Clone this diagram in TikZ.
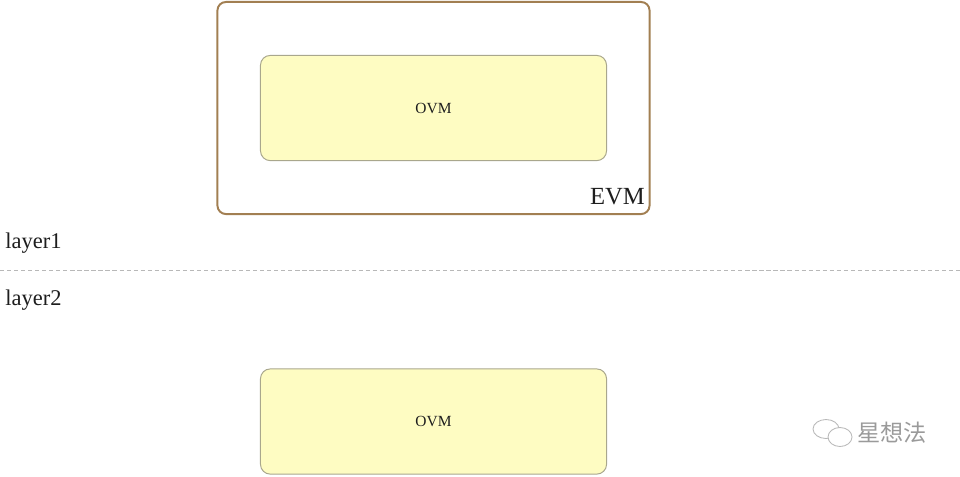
\documentclass[tikz,border=0pt]{standalone}
\usepackage{fontspec}
\setmainfont{Liberation Serif}
\newfontfamily\cjk{Noto Sans CJK SC}
\usetikzlibrary{positioning}

\definecolor{evmline}{HTML}{A27F52}
\definecolor{ovmfill}{HTML}{FEFCC2}
\definecolor{ovmline}{HTML}{A9A78D}
\definecolor{txt}{HTML}{1E1E1E}
\definecolor{mark}{HTML}{9A9A9A}

\tikzset{
  evmbox/.style={draw=evmline, line width=1.4pt, rounded corners=6pt,
    minimum width=10.8cm, minimum height=5.3cm, inner sep=0pt},
  ovmbox/.style={draw=ovmline, fill=ovmfill, line width=0.7pt, rounded corners=7pt,
    minimum width=8.65cm, minimum height=2.63cm, text=txt,
    font=\fontsize{11}{13}\selectfont},
  layerlabel/.style={anchor=west, inner sep=0pt, text=txt,
    font=\fontsize{16}{19}\selectfont},
}

\begin{document}
\begin{tikzpicture}[x=0.025cm, y=-0.025cm]
  \useasboundingbox (0,0) rectangle (960,476);

  % layer 1
  \node [evmbox] (evm) at (433.5,108) {};
  \node [anchor=south east, inner sep=0pt, text=txt,
    font=\fontsize{17.5}{20}\selectfont] (evmlabel) at (645,205) { EVM };
  \node [ovmbox] (ovm1) at (433.5,108) { OVM };
  \node [layerlabel] (layer1) at (5,243) { layer1 };

  % separator
  \coordinate (sepL) at (0,270);
  \coordinate (sepR) at (960,270);
  \draw [black!28, line width=0.6pt, dash pattern=on 3pt off 2pt] (sepL) -- (sepR);

  % layer 2
  \node [layerlabel] (layer2) at (5,300) { layer2 };
  \node [ovmbox] (ovm2) at (433.5,421.5) { OVM };

  % watermark
  \draw [mark!70, line width=0.6pt, fill=white] (826,429) ellipse (13 and 9.5);
  \draw [mark!70, line width=0.6pt, fill=white] (840,437) ellipse (12 and 9.5);
  \node [anchor=west, inner sep=0pt, text=mark,
    font=\cjk\fontsize{16.5}{18}\selectfont] (brand) at (857,433) { 星想法 };
\end{tikzpicture}
\end{document}
